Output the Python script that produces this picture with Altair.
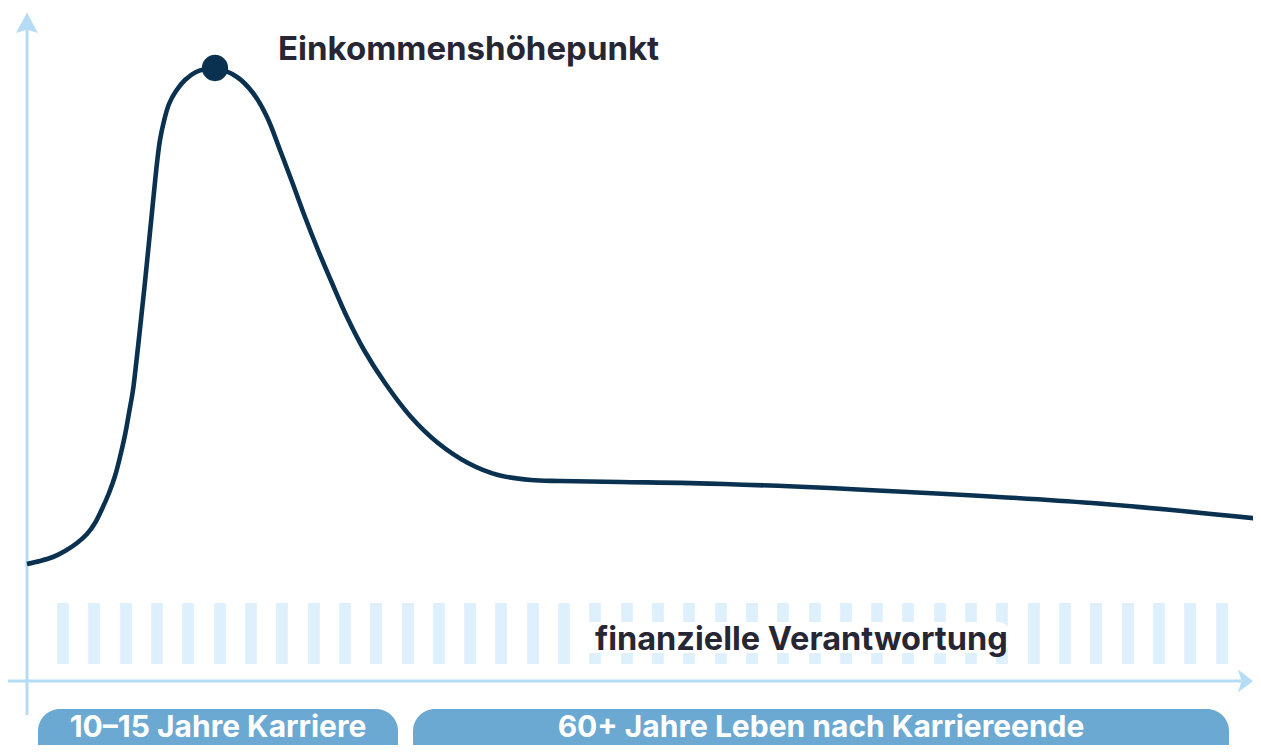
import altair as alt
import pandas as pd

# Income curve (x: time units from the vertical axis, y: income level above the x-axis)
curve_x = [0, 13, 26, 38, 50, 60, 68, 75, 82, 88, 93, 98, 102, 106, 109, 112, 115, 118, 121,
           124, 127, 130, 133, 137, 142, 149, 158, 169, 179, 188,
           210, 226, 240, 253, 265.5, 278, 291, 305, 320, 337, 358, 384, 411, 441, 471, 504, 533,
           593, 697, 881, 1065, 1234]
curve_y = [117, 120, 124, 130, 138, 147, 158, 172, 188, 205, 224, 246, 268, 291, 316, 343, 371,
           399, 429, 459, 489, 518, 541, 560, 577, 590, 601, 609, 612, 613,
           604, 588, 564, 531, 498, 464, 431, 398, 364, 331, 298, 264, 238, 218, 206, 201, 200,
           199, 197, 189, 178, 162]

peak_x = [188]
peak_y = [613]
peak_label = ["Einkommenshöhepunkt"]
peak_label_x = [251]
peak_label_y = [621]

# Decorative stripes ("finanzielle Verantwortung" band)
stripe_x = [36, 67, 99, 130, 161, 193, 224, 255, 287, 318, 349, 381, 412, 443, 474, 506, 537,
            568, 600, 631, 662, 694, 725, 756, 788, 819, 850, 881, 913, 944, 975, 1007, 1038,
            1069, 1101, 1132, 1163, 1195]
stripe_low = 17
stripe_high = 78

resp_label = ["finanzielle Verantwortung"]
resp_label_x = [568]
resp_label_y = [31]
resp_box_x = [545]
resp_box_x2 = [983]
resp_box_y = [28]
resp_box_y2 = [59]

# Bottom phase pills
pill_labels = ["10–15 Jahre Karriere", "60+ Jahre Leben nach Karriereende"]
pill_start = [11, 386]
pill_end = [371, 1202]
pill_top = [-28, -28]
pill_bottom = [-100, -100]
pill_center = [191, 794]
pill_text_y = [-56, -56]

# Axes
axis_x = [0, -22]
axis_x2 = [0, 1214]
axis_y = [-34, 0]
axis_y2 = [658, 0]
arrow_up = {"x": [0], "y": [658]}
arrow_right = {"x": [1218.5], "y": [0]}

AXIS_COLOR = "#b5dbf5"
STRIPE_COLOR = "#def0fc"
PILL_COLOR = "#6ba9d3"
CURVE_COLOR = "#0a3150"
TEXT_COLOR = "#272634"
FONT = "Inter"

xs = alt.Scale(domain=[-19, 1226], nice=False, zero=False)
ys = alt.Scale(domain=[-64, 673], nice=False, zero=False)

def X(f):
    return alt.X(f, type="quantitative", scale=xs, axis=None)

def Y(f):
    return alt.Y(f, type="quantitative", scale=ys, axis=None)

stripes_df = pd.DataFrame({"x": stripe_x, "y": [stripe_low] * len(stripe_x),
                           "y2": [stripe_high] * len(stripe_x)})
stripes = alt.Chart(stripes_df).mark_rule(color=STRIPE_COLOR, strokeWidth=11.7).encode(
    x=X("x"), y=Y("y"), y2="y2")

axes_df = pd.DataFrame({"x": axis_x, "x2": axis_x2, "y": axis_y, "y2": axis_y2})
axes = alt.Chart(axes_df).mark_rule(color=AXIS_COLOR, strokeWidth=3).encode(
    x=X("x"), x2="x2", y=Y("y"), y2="y2")

up = alt.Chart(pd.DataFrame(arrow_up)).mark_point(
    shape="M0,-0.95 L1,0.9 L0,0.6 L-1,0.9 Z", size=484, filled=True, fill=AXIS_COLOR,
    strokeWidth=0, opacity=1).encode(x=X("x"), y=Y("y"))
right = alt.Chart(pd.DataFrame(arrow_right)).mark_point(
    shape="M0.65,0 L-0.65,-1 L-0.35,0 L-0.65,1 Z", size=529, filled=True, fill=AXIS_COLOR,
    strokeWidth=0, opacity=1).encode(x=X("x"), y=Y("y"))

box_df = pd.DataFrame({"x": resp_box_x, "x2": resp_box_x2, "y": resp_box_y, "y2": resp_box_y2})
box = alt.Chart(box_df).mark_rect(color="white", cornerRadius=12).encode(
    x=X("x"), x2="x2", y=Y("y"), y2="y2")

resp_df = pd.DataFrame({"x": resp_label_x, "y": resp_label_y, "t": resp_label})
resp = alt.Chart(resp_df).mark_text(
    align="left", baseline="alphabetic", font=FONT, fontWeight=700, fontSize=32.5,
    color=TEXT_COLOR).encode(x=X("x"), y=Y("y"), text="t")

curve_df = pd.DataFrame({"x": curve_x, "y": curve_y})
curve = alt.Chart(curve_df).mark_line(
    color=CURVE_COLOR, strokeWidth=4.6, interpolate="catmull-rom").encode(
    x=X("x"), y=Y("y"))

peak_df = pd.DataFrame({"x": peak_x, "y": peak_y})
peak = alt.Chart(peak_df).mark_circle(color=CURVE_COLOR, size=690, opacity=1).encode(
    x=X("x"), y=Y("y"))

plabel_df = pd.DataFrame({"x": peak_label_x, "y": peak_label_y, "t": peak_label})
plabel = alt.Chart(plabel_df).mark_text(
    align="left", baseline="alphabetic", font=FONT, fontWeight=700, fontSize=33,
    color=TEXT_COLOR).encode(x=X("x"), y=Y("y"), text="t")

pills_df = pd.DataFrame({"x": pill_start, "x2": pill_end, "y": pill_top, "y2": pill_bottom,
                         "c": pill_center, "ty": pill_text_y, "t": pill_labels})
pills = alt.Chart(pills_df).mark_rect(color=PILL_COLOR, cornerRadius=22).encode(
    x=X("x"), x2="x2", y=Y("y"), y2="y2")
pill_text = alt.Chart(pills_df).mark_text(
    align="center", baseline="alphabetic", font=FONT, fontWeight=700, fontSize=30,
    color="white").encode(x=X("c"), y=Y("ty"), text="t")

chart = alt.layer(
    stripes, box, resp, axes, up, right, curve, peak, plabel, pills, pill_text
).properties(
    width=1245, height=737, background="white", padding=0,
    autosize=alt.AutoSizeParams(type="none")
).configure_view(stroke=None)

chart.save("out.html", embed_options={"renderer": "svg", "actions": False})
